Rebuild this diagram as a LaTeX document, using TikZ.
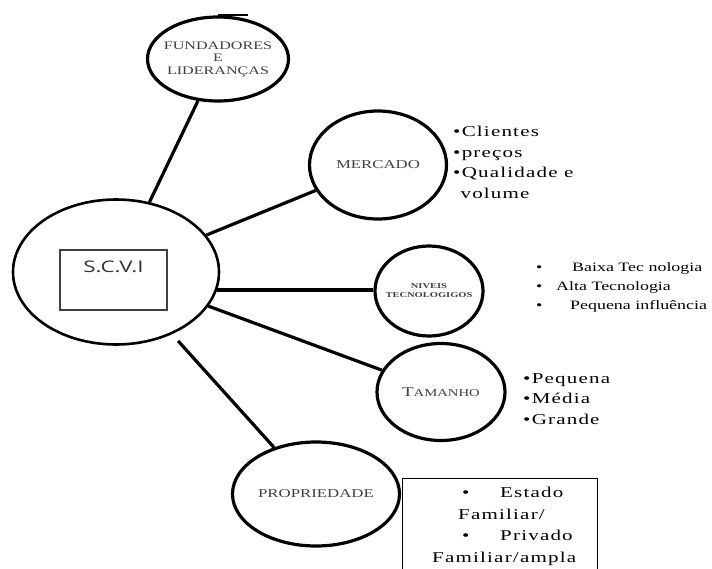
\documentclass[tikz,border=0pt]{standalone}
\usepackage{fontspec}
\setmainfont{Liberation Serif}[FakeStretch=1.4]
\newfontfamily\listafont{Liberation Serif}[FakeStretch=1.4,LetterSpace=8]
\newfontfamily\caixafont{Open Sans}[FakeStretch=1.4]
\usetikzlibrary{shapes.geometric}

\begin{document}
\begin{tikzpicture}[x=1pt,y=-1pt,
    bolha/.style={ellipse,draw,line width=3.2pt,inner sep=0pt},
    rotulo/.style={align=center,text=black!75,inner sep=0pt},
    lista/.style={align=left,inner sep=0pt,anchor=north west,font=\listafont\fontsize{15}{20.5}\selectfont}]
    \useasboundingbox (0,0) rectangle (712,568);
    %elipse central
    \node[bolha,line width=2.6pt,minimum width=206pt,minimum height=145pt] (scvi) at (116,272) {};
    \node[draw,black!75,line width=1.3pt,minimum width=107pt,minimum height=60pt] (scvibox) at (113.5,280) {};
    \node[font=\caixafont\fontsize{16}{16}\selectfont,text=black!80] (scvitxt) at (113.5,267) {S.C.V.I};
    %bolhas
    \node[bolha,minimum width=141pt,minimum height=84pt,
        label={[rotulo,font=\fontsize{11.5}{12.5}\selectfont]center:FUNDADORES\\E\\LIDERANÇAS}] (fund) at (218,59) {};
    \node[bolha,minimum width=137pt,minimum height=108pt,
        label={[rotulo,font=\fontsize{12}{12}\selectfont]center:MERCADO}] (merc) at (378,165) {};
    \node[bolha,minimum width=108pt,minimum height=90pt,
        label={[rotulo,font=\bfseries\fontsize{7.5}{9}\selectfont]center:NIVEIS\\TECNOLOGIGOS}] (niv) at (429,291) {};
    \node[bolha,minimum width=128pt,minimum height=97pt,
        label={[rotulo]center:{\fontsize{13.5}{13}\selectfont T}{\fontsize{10.5}{10}\selectfont AMANHO}}] (tam) at (441,392) {};
    \node[bolha,minimum width=167pt,minimum height=104pt,
        label={[rotulo,font=\fontsize{12}{12}\selectfont]center:PROPRIEDADE}] (prop) at (316,494) {};
    %tracinho solto
    \coordinate (tr1) at (218,15);
    \coordinate (tr2) at (248,15);
    \draw[line width=1.5pt] (tr1) -- (tr2);
    %ligacoes
    \draw[line width=3.2pt] (scvi) -- (fund);
    \draw[line width=3.2pt] (scvi) -- (merc);
    \draw[line width=4pt] (scvi.-10) -- (scvi.-10 -| niv.west);
    \draw[line width=3.2pt] (scvi) -- (tam);
    \draw[line width=3.2pt,shorten <=9pt] (scvi) -- (prop);
    %listas
    \node[lista] (mlista) at (453,126) {•Clientes\\•preços\\•Qualidade e\\\phantom{•}volume};
    \node[lista,font=\fontsize{12.8}{19}\selectfont] (nlista) at (536,262) {%
        \makebox[36pt][l]{•}Baixa Tec nologia\\
        \makebox[20pt][l]{•}Alta Tecnologia\\
        \makebox[34pt][l]{•}Pequena influência};
    \node[lista] (tlista) at (523,373) {•Pequena\\•Média\\•Grande};
    %caixa da propriedade
    \node[draw,line width=1.2pt,minimum width=195pt,minimum height=120pt,anchor=north west] (caixa) at (402,478) {};
    \node[lista,font=\listafont\fontsize{15}{21.5}\selectfont] (clista) at (432,487) {%
        \hspace{30pt}\makebox[38pt][l]{•}Estado\\
        \hspace{26pt}Familiar/\\
        \hspace{30pt}\makebox[38pt][l]{•}Privado\\
        Familiar/ampla};
\end{tikzpicture}
\end{document}
